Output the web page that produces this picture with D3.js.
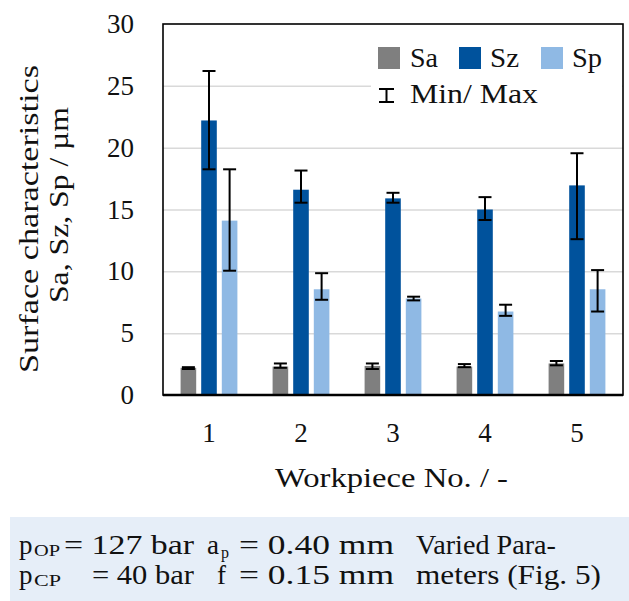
<!DOCTYPE html>
<html>
<head>
<meta charset="utf-8">
<script src="https://cdn.jsdelivr.net/npm/d3@7"></script>
<style>
  html, body { margin: 0; padding: 0; background: #fff; }
  svg { display: block; }
  svg text { font-family: "Liberation Serif", Tinos, "Times New Roman", Times, serif; fill: #111; }
</style>
</head>
<body>
<svg id="chart" width="629" height="601"></svg>
<script>
// Workpiece numbers and the three surface parameters (µm)
const categories = ["1", "2", "3", "4", "5"];
const seriesNames = ["Sa", "Sz", "Sp"];

const saMean = [2.2, 2.3, 2.35, 2.3, 2.55];
const saMin  = [2.1, 2.2, 2.1, 2.25, 2.4];
const saMax  = [2.25, 2.55, 2.55, 2.5, 2.75];

const szMean = [22.2, 16.6, 15.9, 15.0, 16.95];
const szMin  = [18.25, 15.55, 15.55, 14.15, 12.6];
const szMax  = [26.2, 18.15, 16.35, 16.0, 19.55];

const spMean = [14.1, 8.55, 7.8, 6.75, 8.55];
const spMin  = [10.05, 7.7, 7.65, 6.4, 6.75];
const spMax  = [18.25, 9.85, 7.95, 7.3, 10.1];

const yTicks = [0, 5, 10, 15, 20, 25, 30];
const xTitle = "Workpiece No. / -";
const yTitleLines = ["Surface characteristics", "Sa, Sz, Sp / µm"];
const errorLegendLabel = "Min/ Max";

// process parameters shown below the chart
const pressureOP = "= 127 bar";
const pressureCP = "= 40 bar";
const depthOfCut = "= 0.40 mm";
const feedRate = "= 0.15 mm";
const variedNote = ["Varied Para-", "meters (Fig. 5)"];

// ---------------------------------------------------------------
const series = {
  Sa: { mean: saMean, min: saMin, max: saMax },
  Sz: { mean: szMean, min: szMin, max: szMax },
  Sp: { mean: spMean, min: spMin, max: spMax }
};
const colors = { Sa: "#7F7F7F", Sz: "#00529C", Sp: "#8FB9E4" };
const FONT = '"Liberation Serif", Tinos, "Times New Roman", Times, serif';
const FS = 27;

const svg = d3.select("#chart").style("font-family", FONT);

const plot = { left: 163, right: 623, top: 24, bottom: 395 };

const x0 = d3.scaleBand().domain(categories).range([plot.left, plot.right]);
const x1 = d3.scaleBand().domain(seriesNames)
  .range([0, x0.bandwidth()])
  .paddingInner(0.243)
  .paddingOuter(0.854);
const y = d3.scaleLinear().domain([0, 30]).range([plot.bottom, plot.top]);

// text stretched to a given horizontal extent
function fitText(parent, str, xa, xb, yb, size) {
  return parent.append("text")
    .attr("x", xa).attr("y", yb)
    .attr("font-size", size)
    .attr("textLength", xb - xa)
    .attr("lengthAdjust", "spacingAndGlyphs")
    .text(str);
}

// gridlines
svg.append("g")
  .attr("transform", `translate(${plot.left},0)`)
  .call(d3.axisLeft(y).tickValues(yTicks.filter(t => t > 0 && t < 30))
    .tickSize(-(plot.right - plot.left)).tickFormat(""))
  .call(g => g.select(".domain").remove())
  .call(g => g.selectAll("line").attr("stroke", "#D9D9D9").attr("stroke-width", 1.5));

// legend backing
svg.append("rect")
  .attr("x", 371).attr("y", plot.top + 2)
  .attr("width", plot.right - 371 - 1).attr("height", 86)
  .attr("fill", "#fff");

// bars
const groups = svg.append("g").selectAll("g")
  .data(categories)
  .join("g")
  .attr("transform", d => `translate(${x0(d)},0)`);

groups.selectAll("rect")
  .data((d, i) => seriesNames.map(s => ({ s, v: series[s].mean[i] })))
  .join("rect")
  .attr("x", d => x1(d.s))
  .attr("width", x1.bandwidth())
  .attr("y", d => y(d.v))
  .attr("height", d => y(0) - y(d.v))
  .attr("fill", d => colors[d.s]);

// min / max whiskers
const capHalf = 6.5;
const whiskers = groups.selectAll("g.err")
  .data((d, i) => seriesNames.map(s => ({ s, lo: series[s].min[i], hi: series[s].max[i] })))
  .join("g")
  .attr("class", "err")
  .attr("stroke", "#000")
  .attr("stroke-width", 2)
  .attr("transform", d => `translate(${x1(d.s) + x1.bandwidth() / 2},0)`);
whiskers.append("line").attr("x1", 0).attr("x2", 0)
  .attr("y1", d => y(d.lo)).attr("y2", d => y(d.hi));
whiskers.append("line").attr("x1", -capHalf).attr("x2", capHalf)
  .attr("y1", d => y(d.lo)).attr("y2", d => y(d.lo));
whiskers.append("line").attr("x1", -capHalf).attr("x2", capHalf)
  .attr("y1", d => y(d.hi)).attr("y2", d => y(d.hi));

// plot frame
svg.append("rect")
  .attr("x", plot.left).attr("y", plot.top)
  .attr("width", plot.right - plot.left).attr("height", plot.bottom - plot.top)
  .attr("fill", "none").attr("stroke", "#000").attr("stroke-width", 1.6);
svg.append("line")
  .attr("x1", plot.left).attr("x2", plot.right)
  .attr("y1", y(0)).attr("y2", y(0))
  .attr("stroke", "#000").attr("stroke-width", 2.6);

// y axis labels
svg.append("g")
  .attr("transform", `translate(${plot.left},0)`)
  .call(d3.axisLeft(y).tickValues(yTicks).tickSize(0).tickPadding(29).tickFormat(d3.format("d")))
  .call(g => g.select(".domain").remove())
  .call(g => g.attr("font-family", null).attr("font-size", null))
  .call(g => g.selectAll("text").attr("font-size", FS).attr("fill", null).style("font-family", FONT));

// x axis labels
svg.append("g")
  .attr("transform", `translate(0,${plot.bottom})`)
  .call(d3.axisBottom(x0).tickSize(0).tickPadding(27.8))
  .call(g => g.select(".domain").remove())
  .call(g => g.attr("font-family", null).attr("font-size", null))
  .call(g => g.selectAll("text").attr("font-size", FS).attr("fill", null).style("font-family", FONT));

// axis titles
fitText(svg, xTitle, 275, 508, 487, FS);
fitText(svg.append("g").attr("transform", "translate(38,373) rotate(-90)"),
  yTitleLines[0], 0, 308, 0, FS);
fitText(svg.append("g").attr("transform", "translate(68,303) rotate(-90)"),
  yTitleLines[1], 0, 196, 0, FS);

// legend
const legend = svg.append("g");
const legendX = [378, 459, 541];
const legendTextX = [[410, 438], [490, 519], [572, 602]];
seriesNames.forEach((s, i) => {
  legend.append("rect")
    .attr("x", legendX[i]).attr("y", 47)
    .attr("width", 22).attr("height", 22)
    .attr("fill", colors[s]);
  fitText(legend, s, legendTextX[i][0], legendTextX[i][1], 67, FS);
});
const eg = legend.append("g").attr("stroke", "#000").attr("stroke-width", 2);
eg.append("line").attr("x1", 386.5).attr("x2", 386.5).attr("y1", 89).attr("y2", 102);
eg.append("line").attr("x1", 379).attr("x2", 394).attr("y1", 89).attr("y2", 89);
eg.append("line").attr("x1", 379).attr("x2", 394).attr("y1", 102).attr("y2", 102);
fitText(legend, errorLegendLabel, 410, 538, 103, FS);

// parameter box
svg.append("rect")
  .attr("x", 10).attr("y", 517)
  .attr("width", 619).attr("height", 84)
  .attr("fill", "#E6EEF8");

const box = svg.append("g");
const line1 = 554, line2 = 583.5;
// first row
box.append("text").attr("x", 19).attr("y", line1).attr("font-size", FS).text("p");
fitText(box, "OP", 34, 60, line1 + 2, 17);
fitText(box, pressureOP, 64, 194, line1, FS);
box.append("text").attr("x", 207).attr("y", line1).attr("font-size", FS).text("a");
box.append("text").attr("x", 221).attr("y", line1 + 4).attr("font-size", 16).text("p");
fitText(box, depthOfCut, 239, 394, line1, FS);
fitText(box, variedNote[0], 416, 556, line1, FS);
// second row
box.append("text").attr("x", 19).attr("y", line2).attr("font-size", FS).text("p");
fitText(box, "CP", 34, 61, line2 + 2, 17);
fitText(box, pressureCP, 92, 194, line2, FS);
box.append("text").attr("x", 217).attr("y", line2).attr("font-size", FS).text("f");
fitText(box, feedRate, 239, 394, line2, FS);
fitText(box, variedNote[1], 416, 601, line2, FS);
</script>
</body>
</html>
